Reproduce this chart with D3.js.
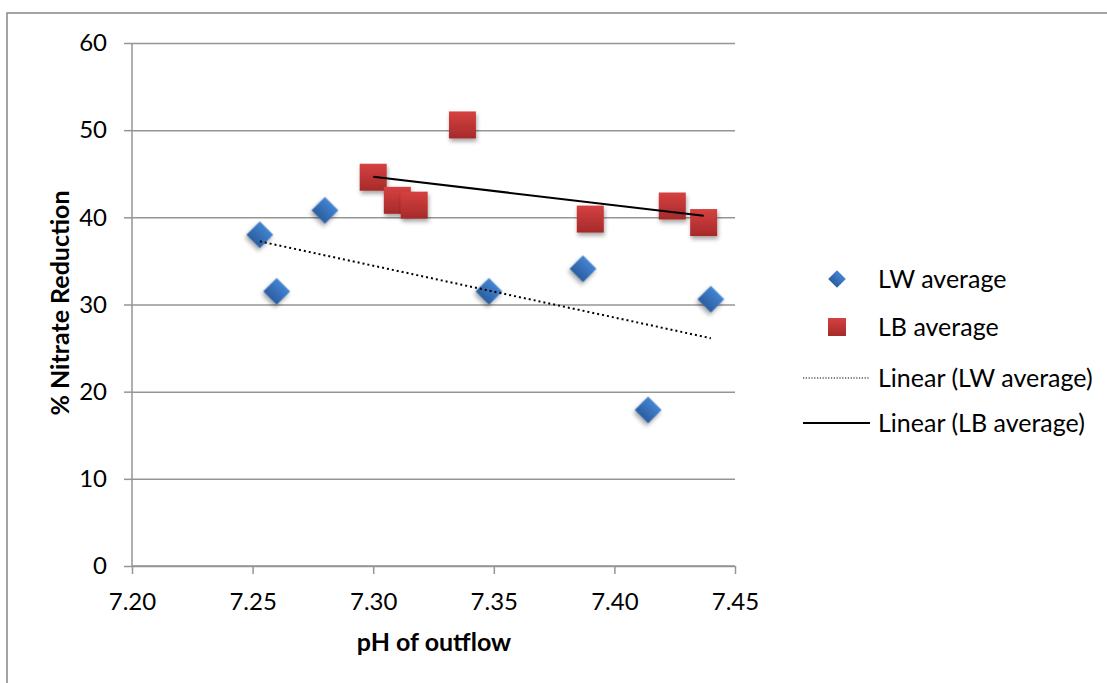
<!DOCTYPE html>
<html>
<head>
<meta charset="utf-8">
<script src="https://cdn.jsdelivr.net/npm/d3@7"></script>
<style>
  body { margin: 0; background: #fff; }
  svg text { font-family: "Lato", "Liberation Sans", sans-serif; fill: #000; }
  .tick text { font-size: 24px; }
  .legText { font-size: 25px; }
  .aTitle { font-size: 25px; font-weight: bold; }
</style>
</head>
<body>
<div id="chart"></div>
<script>
var svgWidth = 1107;
var svgHeight = 683;

var margin = { top: 43, right: 372, bottom: 117, left: 132 };
var width = 735 - margin.left;
var height = 566 - margin.top;

// LW average (diamonds)
var lwPH = [7.253, 7.260, 7.280, 7.348, 7.387, 7.414, 7.440];
var lwNR = [38.0, 31.5, 40.8, 31.5, 34.1, 17.9, 30.6];

// LB average (squares)
var lbPH = [7.300, 7.310, 7.317, 7.337, 7.390, 7.424, 7.437];
var lbNR = [44.6, 41.95, 41.4, 50.6, 39.8, 41.3, 39.4];

var xTicks = [7.20, 7.25, 7.30, 7.35, 7.40, 7.45];
var yTicks = [0, 10, 20, 30, 40, 50, 60];

var legendLabels = ["LW average", "LB average", "Linear (LW average)", "Linear (LB average)"];

var lw = lwPH.map(function(d, i) { return { x: d, y: lwNR[i] }; });
var lb = lbPH.map(function(d, i) { return { x: d, y: lbNR[i] }; });

// least squares fit, drawn over the range of the data like Excel does
function fit(data) {
  var mx = d3.mean(data, d => d.x), my = d3.mean(data, d => d.y);
  var sxy = d3.sum(data, d => (d.x - mx) * (d.y - my));
  var sxx = d3.sum(data, d => (d.x - mx) * (d.x - mx));
  var b = sxy / sxx, a = my - b * mx;
  var x0 = d3.min(data, d => d.x), x1 = d3.max(data, d => d.x);
  return [{ x: x0, y: a + b * x0 }, { x: x1, y: a + b * x1 }];
}

var svg = d3.select("#chart")
  .append("svg")
  .attr("width", svgWidth)
  .attr("height", svgHeight);

var defs = svg.append("defs");
var gBlue = defs.append("linearGradient").attr("id", "gBlue")
  .attr("x1", 0).attr("y1", 0).attr("x2", 0).attr("y2", 1);
gBlue.append("stop").attr("offset", "0%").attr("stop-color", "#4384d3");
gBlue.append("stop").attr("offset", "100%").attr("stop-color", "#2b5e9f");
var gRed = defs.append("linearGradient").attr("id", "gRed")
  .attr("x1", 0).attr("y1", 0).attr("x2", 0).attr("y2", 1);
gRed.append("stop").attr("offset", "0%").attr("stop-color", "#d64141");
gRed.append("stop").attr("offset", "100%").attr("stop-color", "#a62a2a");
var shadow = defs.append("filter").attr("id", "shadow")
  .attr("x", "-50%").attr("y", "-50%").attr("width", "200%").attr("height", "200%");
shadow.append("feDropShadow")
  .attr("dx", 1).attr("dy", 3).attr("stdDeviation", 2)
  .attr("flood-color", "#000").attr("flood-opacity", 0.35);

// chart border
svg.append("rect")
  .attr("x", 7).attr("y", 13)
  .attr("width", 1120).attr("height", 700)
  .attr("fill", "none")
  .attr("stroke", "#868686")
  .attr("stroke-width", 1.5);

var chartGroup = svg.append("g")
  .attr("transform", `translate(${margin.left}, ${margin.top})`);

var xScale = d3.scaleLinear().domain([7.20, 7.45]).range([0, width]);
var yScale = d3.scaleLinear().domain([0, 60]).range([height, 0]);

// gridlines
chartGroup.append("g")
  .attr("class", "grid")
  .call(d3.axisLeft(yScale).tickValues(yTicks).tickSize(-width).tickFormat(""))
  .call(g => g.select(".domain").remove())
  .call(g => g.selectAll("line").attr("stroke", "#959595").attr("stroke-width", 1.5));

// axes
var leftAxis = d3.axisLeft(yScale)
  .tickValues(yTicks)
  .tickSize(8)
  .tickPadding(17)
  .tickFormat(d3.format("d"));
var bottomAxis = d3.axisBottom(xScale)
  .tickValues(xTicks)
  .tickSize(8)
  .tickPadding(19)
  .tickFormat(d3.format(".2f"));

chartGroup.append("g")
  .attr("transform", `translate(0, ${height})`)
  .call(bottomAxis)
  .call(g => g.select(".domain").attr("stroke", "#959595").attr("stroke-width", 1.5).attr("d", `M0,0H${width}`))
  .call(g => g.selectAll(".tick line").attr("stroke", "#959595").attr("stroke-width", 1.5));

chartGroup.append("g")
  .call(leftAxis)
  .call(g => g.select(".domain").attr("stroke", "#959595").attr("stroke-width", 1.5).attr("d", `M0,0V${height}`))
  .call(g => g.selectAll(".tick line").attr("stroke", "#959595").attr("stroke-width", 1.5));

svg.selectAll(".tick text").attr("font-family", null).attr("font-size", null);

// axis titles
svg.append("text")
  .attr("class", "aTitle")
  .attr("transform", "translate(60, 303) rotate(-90)")
  .attr("text-anchor", "middle")
  .attr("dy", "0.35em")
  .text("% Nitrate Reduction");

svg.append("text")
  .attr("class", "aTitle")
  .attr("x", 434)
  .attr("y", 642)
  .attr("text-anchor", "middle")
  .attr("dy", "0.35em")
  .text("pH of outflow");

// markers
var diamond = d3.symbol().type(d3.symbolSquare).size(19 * 19);
var square = d3.symbol().type(d3.symbolSquare).size(27 * 27);

chartGroup.selectAll(".lw")
  .data(lw)
  .enter()
  .append("path")
  .attr("class", "lw")
  .attr("d", diamond)
  .attr("transform", d => `translate(${xScale(d.x)}, ${yScale(d.y)}) rotate(45)`)
  .attr("fill", "url(#gBlue)")
  .attr("filter", "url(#shadow)");

chartGroup.selectAll(".lb")
  .data(lb)
  .enter()
  .append("path")
  .attr("class", "lb")
  .attr("d", square)
  .attr("transform", d => `translate(${xScale(d.x)}, ${yScale(d.y)})`)
  .attr("fill", "url(#gRed)")
  .attr("filter", "url(#shadow)");

// trendlines
var line = d3.line().x(d => xScale(d.x)).y(d => yScale(d.y));

chartGroup.append("path")
  .datum(fit(lw))
  .attr("d", line)
  .attr("fill", "none")
  .attr("stroke", "#000")
  .attr("stroke-width", 2)
  .attr("stroke-dasharray", "2,3");

chartGroup.append("path")
  .datum(fit(lb))
  .attr("d", line)
  .attr("fill", "none")
  .attr("stroke", "#000")
  .attr("stroke-width", 2);

// legend
var legY = [279, 327, 378, 423];
var legend = svg.append("g");

legend.append("path")
  .attr("d", d3.symbol().type(d3.symbolSquare).size(12.5 * 12.5))
  .attr("transform", `translate(837, ${legY[0]}) rotate(45)`)
  .attr("fill", "url(#gBlue)");

legend.append("path")
  .attr("d", d3.symbol().type(d3.symbolSquare).size(18 * 18))
  .attr("transform", `translate(837, ${legY[1]})`)
  .attr("fill", "url(#gRed)");

legend.append("line")
  .attr("x1", 803).attr("x2", 870)
  .attr("y1", legY[2]).attr("y2", legY[2])
  .attr("stroke", "#000")
  .attr("stroke-width", 1.2)
  .attr("stroke-dasharray", "1.2,1.6");

legend.append("line")
  .attr("x1", 803).attr("x2", 870)
  .attr("y1", legY[3]).attr("y2", legY[3])
  .attr("stroke", "#000")
  .attr("stroke-width", 2);

legend.selectAll(".legText")
  .data(legendLabels)
  .enter()
  .append("text")
  .attr("class", "legText")
  .attr("x", 878)
  .attr("y", (d, i) => legY[i])
  .attr("dy", "0.35em")
  .text(d => d);
</script>
</body>
</html>
